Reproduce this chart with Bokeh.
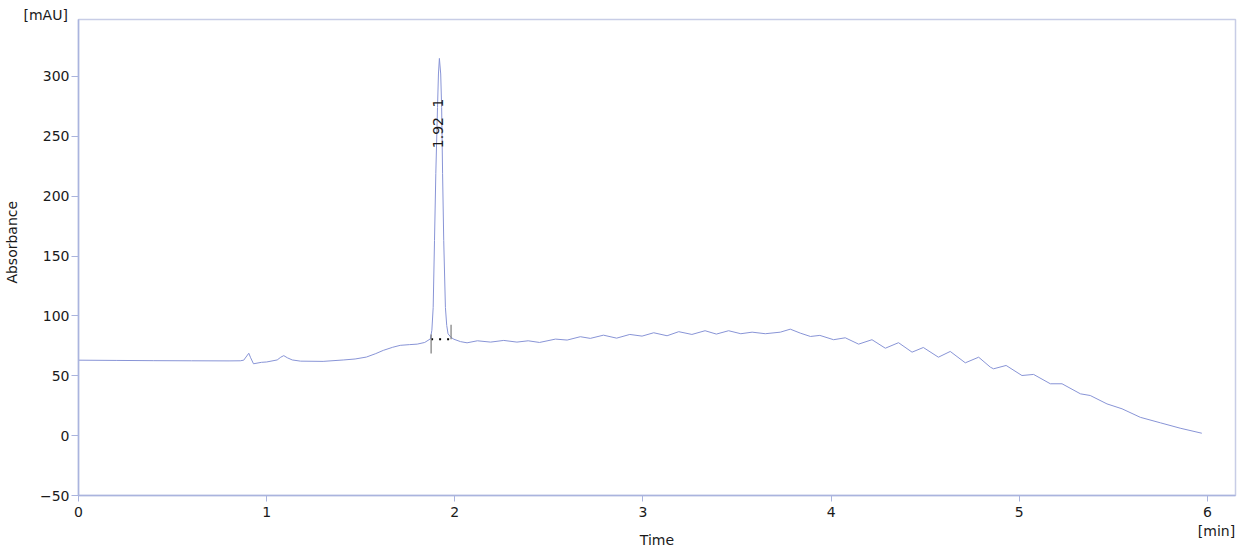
import math
from bokeh.plotting import figure
from bokeh.models import Range1d, FixedTicker, LinearAxis, Title, CustomJSTickFormatter
from bokeh.embed import file_html
from bokeh.resources import INLINE
from bokeh.core.properties import value

# ---- data ----
time_min = [
    0.00, 0.20, 0.40, 0.60, 0.80, 0.86, 0.878, 0.905, 0.915, 0.93, 0.972, 1.00,
    1.056, 1.075, 1.091, 1.11, 1.136, 1.18, 1.30, 1.41, 1.47, 1.53, 1.58, 1.62,
    1.67, 1.71, 1.76, 1.80, 1.84, 1.87,
    1.878, 1.885, 1.892, 1.899, 1.908, 1.913, 1.918, 1.925, 1.930, 1.935, 1.941,
    1.950, 1.957, 1.964, 1.980, 1.995,
    2.030, 2.065, 2.120, 2.190, 2.260, 2.330, 2.390, 2.450, 2.535, 2.597, 2.667,
    2.720, 2.790, 2.860, 2.930, 2.995, 3.057, 3.128, 3.190, 3.260, 3.330, 3.390,
    3.455, 3.520, 3.580, 3.650, 3.730, 3.783, 3.836, 3.890, 3.940, 4.013, 4.075,
    4.146, 4.217, 4.288, 4.358, 4.430, 4.490, 4.570, 4.633, 4.713, 4.784, 4.846,
    4.863, 4.930, 5.014, 5.076, 5.165, 5.227, 5.325, 5.377, 5.466, 5.546, 5.643,
    5.750, 5.855, 5.970,
]
absorbance = [
    63.0, 62.8, 62.6, 62.5, 62.4, 62.5, 63.0, 68.8, 65.0, 60.0, 61.2, 61.5,
    63.2, 65.5, 66.8, 65.0, 63.2, 62.2, 62.0, 63.2, 64.0, 65.6, 68.5, 71.2,
    73.8, 75.4, 76.0, 76.4, 77.8, 80.8,
    88.0, 107.0, 163.0, 219.0, 274.0, 302.0, 315.0, 302.0, 274.0, 219.0, 163.0,
    107.0, 92.0, 85.0, 82.0, 80.5,
    78.5, 77.5, 79.2, 78.1, 79.5, 78.1, 79.2, 77.8, 80.6, 79.8, 82.6,
    81.2, 83.9, 81.4, 84.5, 83.1, 85.9, 83.4, 86.8, 84.5, 87.6, 84.8,
    87.6, 85.1, 86.4, 85.1, 86.4, 88.9, 85.6, 82.8, 83.7, 80.1, 81.7,
    76.4, 80.1, 73.0, 77.6, 69.7, 73.6, 65.5, 70.3, 60.8, 65.5, 57.2,
    55.8, 58.6, 50.2, 51.1, 43.3, 43.3, 34.9, 33.5, 26.5, 22.4, 15.3,
    10.7, 6.2, 2.0,
]

x_ticks = [0, 1, 2, 3, 4, 5, 6]
y_ticks = [-50, 0, 50, 100, 150, 200, 250, 300]

# peak annotation: retention time text and peak number text
peak_label_time = [1.913, 1.913]
peak_label_level = [240.0, 274.0]
peak_labels = ["1.92", "1"]

peak_bounds = [1.874, 1.980]          # integration start / end
peak_base = [80.5, 80.5]              # baseline level under the peak

# titles
x_title, y_title = "Time", "Absorbance"
x_unit, y_unit = "[min]", "[mAU]"
x_unit_pos = [6.048]      # where the x unit sits along the time axis
y_title_pos = [161.5]     # where the y title is centred along the absorbance axis

FONT = "DejaVu Sans"
LINE = "#8894d6"
AXIS = "#aab4de"
TXT = "#1a1a1a"

p = figure(width=1237, height=550, output_backend="svg", toolbar_location=None,
           x_range=Range1d(0, 6.149), y_range=Range1d(-50, 347.5),
           min_border_left=78, min_border_right=2, min_border_top=19,
           min_border_bottom=55)
p.grid.visible = False
p.outline_line_color = "#c8cde6"
p.outline_line_width = 1.5
p.background_fill_color = "white"
p.border_fill_color = "white"

for ax, ticks in ((p.xaxis, x_ticks), (p.yaxis, y_ticks)):
    ax.ticker = FixedTicker(ticks=ticks)
    ax.axis_line_color = AXIS
    ax.axis_line_width = 1.5
    ax.major_tick_line_color = AXIS
    ax.major_tick_in = 0
    ax.minor_tick_line_color = None
    ax.major_label_text_font = FONT
    ax.major_label_text_font_size = "14px"
    ax.major_label_text_color = TXT
p.xaxis.major_tick_out = 6
p.xaxis.major_label_standoff = 5
p.yaxis.major_tick_out = 7
p.yaxis.major_label_standoff = 2


def text_axis(ticks, label_text, **kw):
    ax = LinearAxis(ticker=FixedTicker(ticks=ticks),
                    formatter=CustomJSTickFormatter(code="return %r;" % label_text),
                    axis_line_color=None, major_tick_line_color=None,
                    minor_tick_line_color=None, major_tick_in=0, major_tick_out=0,
                    major_label_text_font=FONT, major_label_text_font_size="14px",
                    major_label_text_color=TXT, **kw)
    return ax


# x unit "[min]" under the last tick, with "Time" below it
ax_unit = text_axis(x_unit_pos, x_unit, major_label_standoff=3)
ax_unit.axis_label = x_title
ax_unit.axis_label_standoff = -10
ax_unit.axis_label_text_font = FONT
ax_unit.axis_label_text_font_size = "14px"
ax_unit.axis_label_text_font_style = "normal"
ax_unit.axis_label_text_color = TXT
p.add_layout(ax_unit, "below")

# y title "Absorbance" to the left of the tick labels
ax_ytitle = text_axis(y_title_pos, y_title, major_label_standoff=16,
                      major_label_orientation="vertical")
p.add_layout(ax_ytitle, "left")

# y unit "[mAU]" above the top-left corner
p.add_layout(Title(text=y_unit, align="left", offset=-55, standoff=-6,
                   text_font=FONT, text_font_size="14px", text_font_style="normal",
                   text_color=TXT), "above")

# chromatogram trace
p.line(time_min, absorbance, line_color=LINE, line_width=1.0)

# baseline between integration marks
p.line(peak_bounds, peak_base, line_color="black", line_width=2, line_dash="2 6")
# start / end markers
p.segment(x0=[peak_bounds[0]], y0=[peak_base[0] - 12], x1=[peak_bounds[0]], y1=[peak_base[0] + 4],
          line_color="#7a7a7a", line_width=1.2)
p.segment(x0=[peak_bounds[1]], y0=[peak_base[1]], x1=[peak_bounds[1]], y1=[peak_base[1] + 12],
          line_color="#7a7a7a", line_width=1.2)

# peak annotation
p.text(x=peak_label_time, y=peak_label_level, text=peak_labels, angle=math.pi / 2,
       text_align="left", text_baseline="middle", text_font=value(FONT),
       text_font_size="14px", text_color=TXT)

open("out.html", "w").write(file_html(p, INLINE))
